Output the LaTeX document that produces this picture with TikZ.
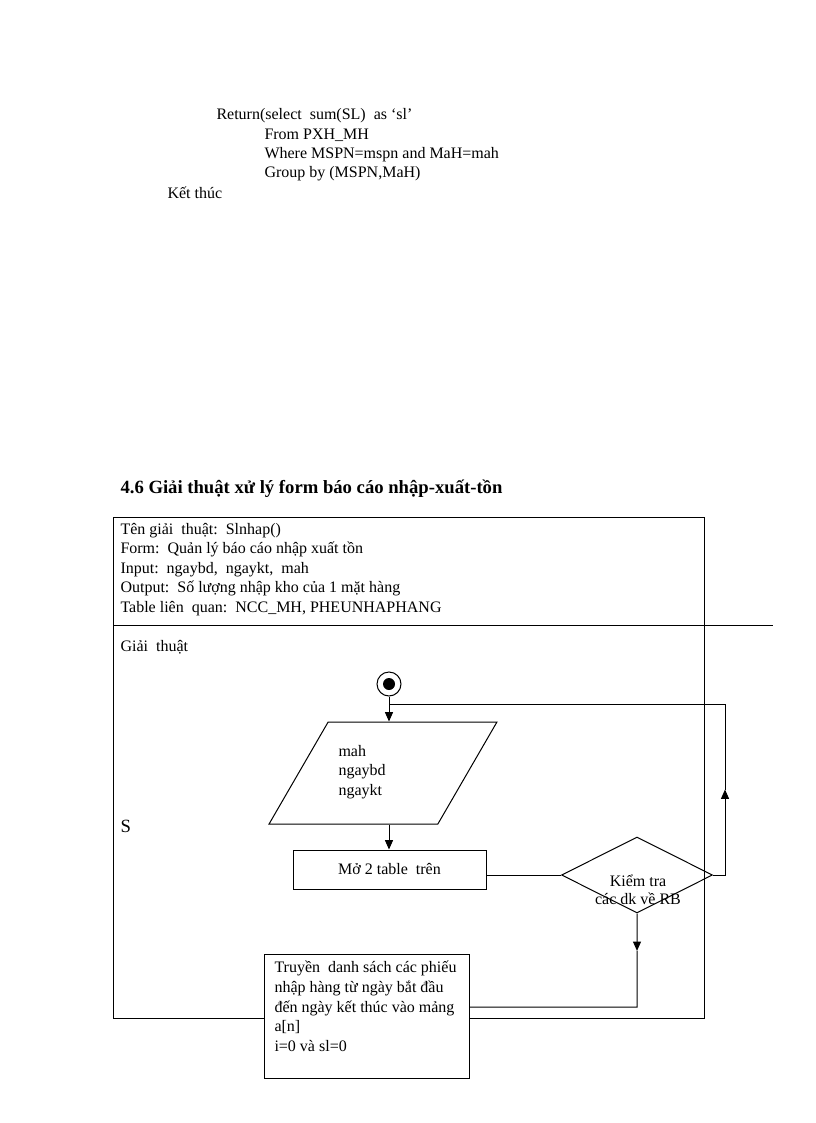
\documentclass[tikz,border=0pt]{standalone}
\usepackage{fontspec}
\setmainfont{Liberation Serif}
\usetikzlibrary{arrows.meta,shapes.geometric,calc}

\begin{document}
\begin{tikzpicture}[x=0.75pt,y=-0.75pt,line width=0.75pt,
    txt/.style={anchor=base west,inner sep=0pt,font=\fontsize{12}{14.5}\selectfont},
    arr/.style={-{Triangle[width=6pt,length=7pt]}},
    box/.style={draw,fill=white,inner sep=0pt,font=\fontsize{12}{14.5}\selectfont},
    para/.style={draw,trapezium,trapezium left angle=61.7,trapezium right angle=118.3,
      trapezium stretches=true,minimum width=171pt,minimum height=76.5pt,inner sep=2pt}]
  \useasboundingbox (0,0) rectangle (816,1123);

  % end of previous algorithm
  \node[txt] (ret) at (216,120) {Return(select\ \ sum(SL)\ \ as ‘sl’};
  \node[txt] (from) at (264,139.3) {From PXH\_MH};
  \node[txt] (where) at (264,158.5) {Where MSPN=mspn and MaH=mah};
  \node[txt] (group) at (264,177.8) {Group\ by (MSPN,MaH)};
  \node[txt] (ketthuc) at (167,199) {Kết thúc};

  \node[txt,font=\fontsize{14}{16}\selectfont\bfseries] (title) at (120,493.3)
    {4.6 Giải thuật xử lý form báo cáo nhập-xuất-tồn};

  % frame
  \draw (113,517) rectangle (704,1018);
  \draw (113,625.5) -- (773,625.5);
  \foreach \t [count=\i] in {{Tên giải\ \ thuật:\ \ Slnhap()},
      {Form:\ \ Quản lý báo cáo nhập xuất tồn},
      {Input:\ \ ngaybd,\ \ ngaykt,\ \ mah},
      {Output:\ \ Số lượng nhập kho của 1 mặt hàng},
      {Table liên\ \ quan:\ \ NCC\_MH, PHEUNHAPHANG}}
    \node[txt] (info\i) at (120,{534.3+19.5*(\i-1)}) {\t};
  \node[txt] (gt) at (120,651.5) {Giải\ \ thuật};
  \node[txt,font=\fontsize{14}{16}\selectfont] (s) at (120,832) {S};

  % flow chart
  \node[circle,draw,minimum size=18pt,inner sep=0pt] (start) at (389,684) {};
  \node[circle,fill,minimum size=9pt,inner sep=0pt] (startdot) at (start) {};
  \node[para] (input) at (383,773) {};
  \foreach \t [count=\i] in {mah,ngaybd,ngaykt}
    \node[txt] (in\i) at (338,{756+19.5*(\i-1)}) {\t};
  \node[box,minimum width=144.75pt,minimum height=29.25pt] (open) at (389.5,869.5) {Mở 2 table\ \ trên};
  \node[draw,diamond,minimum width=113.25pt,minimum height=57pt,inner sep=0pt] (check) at (637,875) {};
  \node[txt,anchor=base] (chk1) at (638,886) {Kiểm tra};
  \node[txt,anchor=base] (chk2) at (638,904) {các dk về RB};
  \node[box,minimum width=153.75pt,minimum height=93pt] (transfer) at (366.5,1016) {};
  \foreach \t [count=\i] in {{Truyền\ \ danh sách các phiếu},
      {nhập\ hàng\ từ ngày\ bắt đầu},
      {đến ngày\ kết thúc\ vào mảng},
      {a[n]},{i=0 và sl=0}}
    \node[txt] (tr\i) at (274,{972.7+19.7*(\i-1)}) {\t};

  \draw[arr] (start.south) -- (start |- input.north);
  \draw[arr] (start |- input.south) -- (start |- open.north);
  \draw (open.east |- check.west) -- (check.west);
  \coordinate (loopR) at (725,875);
  \coordinate (loopT) at (725,704);
  \draw[arr] (check.east) -- (loopR) -- ($(loopR)!0.5!(loopT)$);
  \draw ($(loopR)!0.5!(loopT)$) -- (loopT) -- (start |- loopT);
  \coordinate (bend) at (637,1007);
  \draw[arr] (check.south) -- ($(check.south)!0.4!(bend)$);
  \draw ($(check.south)!0.4!(bend)$) -- (bend) -- (transfer.east |- bend);
\end{tikzpicture}
\end{document}
